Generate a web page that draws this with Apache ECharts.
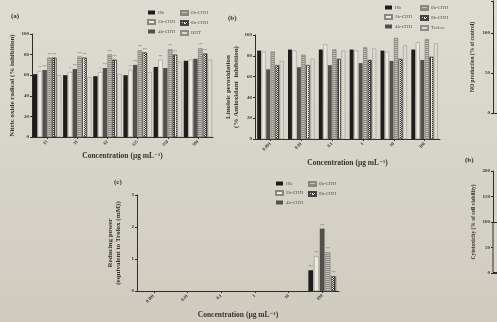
<!DOCTYPE html>
<html>
<head>
<meta charset="utf-8">
<script src="https://cdn.jsdelivr.net/npm/echarts@6/dist/echarts.min.js"></script>
<style>
  html, body { margin: 0; padding: 0; }
  #main { width: 497px; height: 322px; }
</style>
</head>
<body>
<div id="main"></div>
<script>
// panel (a): nitric oxide radical scavenging
const catsA = ['15', '31', '62', '125', '250', '500'];
const aHb = [61, 60, 59, 60, 68, 74];
const a2h = [64, 63, 63, 65, 75, 75];
const a4h = [65, 66, 67, 70, 67, 76];
const a6h = [77, 78, 80, 84, 85, 86];
const a8h = [77, 77, 75, 82, 80, 81];
const aBHT = [60, 58, 61, 63, 73, 75];
const starsA = {
    '2h-CHH': ['**', '*', '*', '**', '***', ''],
    '4h-CHH': ['***', '***', '***', '***', '', ''],
    '6h-CHH': ['***', '***', '***', '***', '***', '***'],
    '8h-CHH': ['***', '***', '***', '***', '***', '***']
};

// panel (b): linoleic peroxidation
const catsBC = ['0.001', '0.01', '0.1', '1', '10', '100'];
const bHb = [85, 86, 86, 86, 85, 86];
const b2h = [84, 85, 91, 85, 84, 93];
const b4h = [67, 69, 71, 73, 75, 76];
const b6h = [84, 81, 86, 88, 97, 96];
const b8h = [71, 71, 77, 76, 77, 79];
const bTrolox = [75, 77, 85, 87, 90, 92];

// panel (c): reducing power, only the highest concentration responds
const cHb = [null, null, null, null, null, 0.65];
const c2h = [null, null, null, null, null, 1.08];
const c4h = [null, null, null, null, null, 1.95];
const c6h = [null, null, null, null, null, 1.21];
const c8h = [null, null, null, null, null, 0.46];
const starsC = '***';

// cut-off panels on the right edge
const noTicks = [0, 50, 100];
const cytoBar = [100];

const serif = '"Liberation Serif", "DejaVu Serif", serif';
const ink = '#36342f';

const looks = {
    'Hb': { color: '#1d1d1c' },
    '2h-CHH': { color: '#ebe9e2', borderColor: '#8a8781', borderWidth: 0.5 },
    '4h-CHH': { color: '#51504c' },
    '6h-CHH': {
        color: '#c4c1b8', borderColor: '#8a8780', borderWidth: 0.5,
        decal: { symbol: 'rect', symbolSize: 1, dashArrayX: [1, 0], dashArrayY: [1, 1], color: '#8f8c83' }
    },
    '8h-CHH': {
        color: '#e8e6df', borderColor: '#444', borderWidth: 0.5,
        decal: { symbol: 'rect', symbolSize: 1, dashArrayX: [[1, 1], [0, 1, 1]], dashArrayY: [1, 0], color: '#3a3a3a' }
    },
    'BHT': { color: '#dcd9d1', borderColor: '#8f8c85', borderWidth: 0.5 },
    'Trolox': { color: '#dcd9d1', borderColor: '#8f8c85', borderWidth: 0.5 }
};

function bars(name, data, idx, gap, catGap, stars) {
    return {
        name: name,
        type: 'bar',
        xAxisIndex: idx,
        yAxisIndex: idx,
        data: data,
        barGap: gap,
        barCategoryGap: catGap,
        itemStyle: looks[name],
        animation: false,
        label: stars ? {
            show: true,
            position: 'top',
            distance: 1,
            fontSize: 3.5,
            color: '#6b6862',
            formatter: p => Array.isArray(stars) ? stars[p.dataIndex] : stars
        } : { show: false }
    };
}

function yAxis(idx, name, max, interval, gap, extra) {
    return Object.assign({
        gridIndex: idx,
        type: 'value',
        min: 0,
        max: max,
        interval: interval,
        name: name,
        nameLocation: 'middle',
        nameGap: gap,
        nameRotate: 90,
        nameTextStyle: { fontFamily: serif, fontWeight: 'bold', fontSize: 7, color: ink, lineHeight: 8 },
        axisLine: { show: true, lineStyle: { color: '#2f2e2b', width: 1 } },
        axisTick: { show: true, length: 2, lineStyle: { color: '#2f2e2b' } },
        axisLabel: { fontFamily: serif, fontWeight: 'bold', fontSize: 5, color: ink, margin: 3 },
        splitLine: { show: false }
    }, extra || {});
}

function xAxis(idx, cats, name, gap, extra) {
    return Object.assign({
        gridIndex: idx,
        type: 'category',
        data: cats,
        name: name,
        nameLocation: 'middle',
        nameGap: gap,
        nameTextStyle: { fontFamily: serif, fontWeight: 'bold', fontSize: 7.5, color: ink },
        axisLine: { show: true, lineStyle: { color: '#2f2e2b', width: 1 } },
        axisTick: { show: true, alignWithLabel: true, length: 2, lineStyle: { color: '#2f2e2b' } },
        axisLabel: { rotate: 45, fontFamily: serif, fontWeight: 'bold', fontSize: 4.5, color: ink, margin: 4 },
        splitLine: { show: false }
    }, extra || {});
}

function legend(names, left, top) {
    return {
        data: names,
        orient: 'vertical',
        left: left,
        top: top,
        itemWidth: 7,
        itemHeight: 4,
        itemGap: 4,
        padding: 0,
        selectedMode: false,
        icon: 'rect',
        textStyle: { fontFamily: serif, fontSize: 5, color: '#55534d', padding: [0, 0, 0, -2] }
    };
}

const concName = 'Concentration (\u03bcg mL\u207b\u00b9)';
const chart = echarts.init(document.getElementById('main'));

const option = {
    backgroundColor: {
        type: 'linear', x: 0, y: 0, x2: 0, y2: 1,
        colorStops: [{ offset: 0, color: '#dedcd2' }, { offset: 1, color: '#cfcbbf' }]
    },
    animation: false,
    title: [
        { text: '(a)', left: 6, top: 8, textStyle: { fontFamily: serif, fontSize: 7, fontWeight: 'bold', color: ink } },
        { text: '(b)', left: 223, top: 10, textStyle: { fontFamily: serif, fontSize: 7, fontWeight: 'bold', color: ink } },
        { text: '(c)', left: 109, top: 174, textStyle: { fontFamily: serif, fontSize: 7, fontWeight: 'bold', color: ink } },
        { text: '(b)', left: 460, top: 152, textStyle: { fontFamily: serif, fontSize: 7, fontWeight: 'bold', color: ink } }
    ],
    legend: [
        legend(['Hb', '2h-CHH', '4h-CHH'], 147, 10),
        legend(['6h-CHH', '8h-CHH', 'BHT'], 180, 10),
        legend(['Hb', '2h-CHH', '4h-CHH'], 384, 5),
        legend(['6h-CHH', '8h-CHH', 'Trolox'], 420, 5),
        legend(['Hb', '2h-CHH', '4h-CHH'], 275, 181),
        legend(['6h-CHH', '8h-CHH'], 308, 181)
    ],
    grid: [
        { left: 32, top: 34, width: 181, height: 103 },
        { left: 255, top: 35, width: 185, height: 104 },
        { left: 137, top: 195, width: 202, height: 96 },
        { left: 493, top: 1, width: 20, height: 112 },
        { left: 493, top: 171, width: 60, height: 102 }
    ],
    xAxis: [
        xAxis(0, catsA, concName, 15),
        xAxis(1, catsBC, concName, 20),
        xAxis(2, catsBC, concName, 20),
        xAxis(3, [''], '', 0, { axisTick: { show: false }, axisLabel: { show: false } }),
        xAxis(4, [''], '', 0, { axisTick: { show: false }, axisLabel: { show: false } })
    ],
    yAxis: [
        yAxis(0, 'Nitric oxide radical (% inhibition)', 100, 20, 16),
        yAxis(1, 'Linoleic peroxidation\n(% Antioxidant  inhibition)', 100, 20, 11),
        yAxis(2, 'Reducing power\n(equivalent to Trolox (mM))', 3, 1, 15),
        yAxis(3, 'NO production (% of control)', 140, 50, 17, {
            nameTextStyle: { fontFamily: serif, fontWeight: 'bold', fontSize: 5.5, color: ink },
            axisLabel: {
                fontFamily: serif, fontWeight: 'bold', fontSize: 5, color: ink, margin: 3,
                formatter: v => noTicks.indexOf(v) >= 0 ? v : ''
            }
        }),
        yAxis(4, 'Cytotoxicity (% of cell viability)', 200, 50, 16, {
            nameTextStyle: { fontFamily: serif, fontWeight: 'bold', fontSize: 5.5, color: ink }
        })
    ],
    series: [
        bars('Hb', aHb, 0, '10%', '6%'),
        bars('2h-CHH', a2h, 0, '10%', '6%', starsA['2h-CHH']),
        bars('4h-CHH', a4h, 0, '10%', '6%', starsA['4h-CHH']),
        bars('6h-CHH', a6h, 0, '10%', '6%', starsA['6h-CHH']),
        bars('8h-CHH', a8h, 0, '10%', '6%', starsA['8h-CHH']),
        bars('BHT', aBHT, 0, '10%', '6%'),

        bars('Hb', bHb, 1, '15%', '14%'),
        bars('2h-CHH', b2h, 1, '15%', '14%'),
        bars('4h-CHH', b4h, 1, '15%', '14%'),
        bars('6h-CHH', b6h, 1, '15%', '14%'),
        bars('8h-CHH', b8h, 1, '15%', '14%'),
        bars('Trolox', bTrolox, 1, '15%', '14%'),

        bars('Hb', cHb, 2, '20%', '18%', starsC),
        bars('2h-CHH', c2h, 2, '20%', '18%', starsC),
        bars('4h-CHH', c4h, 2, '20%', '18%', starsC),
        bars('6h-CHH', c6h, 2, '20%', '18%', starsC),
        bars('8h-CHH', c8h, 2, '20%', '18%', starsC),

        {
            name: 'cell',
            type: 'bar',
            xAxisIndex: 4,
            yAxisIndex: 4,
            data: cytoBar,
            barWidth: 54,
            itemStyle: { color: '#d6d3c8', borderColor: '#2f2e2b', borderWidth: 1 }
        }
    ]
};

option && chart.setOption(option);
</script>
</body>
</html>
